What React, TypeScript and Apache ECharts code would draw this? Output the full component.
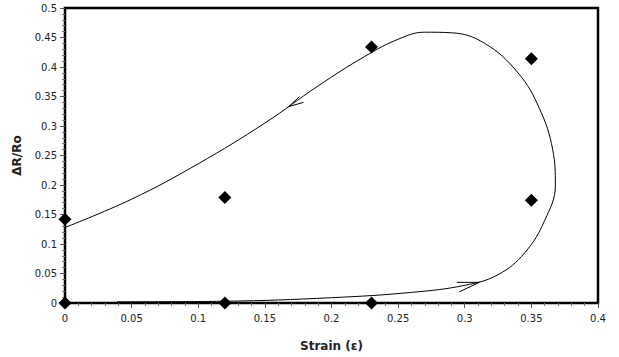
import React, { useEffect, useRef } from "react";
import * as echarts from "echarts";

const xTicks = [0, 0.05, 0.1, 0.15, 0.2, 0.25, 0.3, 0.35, 0.4];
const yTicks = [0, 0.05, 0.1, 0.15, 0.2, 0.25, 0.3, 0.35, 0.4, 0.45, 0.5];

const strainPoints = [0, 0, 0.12, 0.12, 0.23, 0.23, 0.35, 0.35];
const resistancePoints = [0, 0.142, 0, 0.179, 0, 0.434, 0.414, 0.174];

const loopStrain = [
  0.039, 0.12, 0.2, 0.26, 0.3, 0.325, 0.345, 0.36, 0.368, 0.366, 0.356, 0.34,
  0.315, 0.29, 0.27, 0.25, 0.225, 0.19, 0.15, 0.1, 0.05, 0,
];
const loopResistance = [
  0.002, 0.003, 0.009, 0.018, 0.03, 0.048, 0.085, 0.14, 0.2, 0.26, 0.33, 0.39,
  0.44, 0.458, 0.459, 0.447, 0.418, 0.368, 0.305, 0.236, 0.176, 0.128,
];

// arrow heads: wing, tip, wing
const arrowUpStrain = [0.176, 0.168, 0.179];
const arrowUpRes = [0.35, 0.333, 0.34];
const arrowDownStrain = [0.294, 0.311, 0.296];
const arrowDownRes = [0.035, 0.035, 0.019];

const zip = (a: number[], b: number[]) => a.map((v, i) => [v, b[i]]);

export default function App() {
  const ref = useRef<HTMLDivElement>(null);
  useEffect(() => {
    if (!ref.current) return;
    const chart = echarts.init(ref.current, undefined, { renderer: "svg" });
    const font = "DejaVu Sans";
    chart.setOption({
      animation: false,
      backgroundColor: "#ffffff",
      grid: {
        left: 65,
        right: 21,
        top: 8,
        bottom: 53,
        show: true,
        borderColor: "#000",
        borderWidth: 2.5,
      },
      xAxis: {
        type: "value",
        min: 0,
        max: 0.4,
        interval: 0.05,
        name: "Strain (ε)",
        nameLocation: "middle",
        nameGap: 37,
        nameTextStyle: { fontFamily: font, fontWeight: "bold", fontSize: 12, color: "#222" },
        axisLine: { show: true, onZero: false, lineStyle: { color: "#000", width: 2 } },
        axisTick: { show: true, length: 5, lineStyle: { color: "#555" } },
        minorTick: { show: true, splitNumber: 5, length: 3, lineStyle: { color: "#777" } },
        splitLine: { show: false },
        axisLabel: {
          fontFamily: font,
          fontSize: 10,
          color: "#222",
          margin: 10,
          formatter: (v: number) => {
            const t = xTicks.find((x) => Math.abs(x - v) < 1e-9);
            return t === undefined ? "" : String(t);
          },
        },
      },
      yAxis: {
        type: "value",
        min: 0,
        max: 0.5,
        interval: 0.05,
        name: "ΔR/Ro",
        nameLocation: "middle",
        nameGap: 42,
        nameTextStyle: { fontFamily: font, fontWeight: "bold", fontSize: 12, color: "#222" },
        axisLine: { show: true, onZero: false, lineStyle: { color: "#000", width: 2 } },
        axisTick: { show: true, length: 5, lineStyle: { color: "#555" } },
        minorTick: { show: true, splitNumber: 5, length: 3, lineStyle: { color: "#777" } },
        splitLine: { show: false },
        axisLabel: {
          fontFamily: font,
          fontSize: 10,
          color: "#222",
          margin: 8,
          formatter: (v: number) => {
            const t = yTicks.find((y) => Math.abs(y - v) < 1e-9);
            return t === undefined ? "" : String(t);
          },
        },
      },
      series: [
        {
          type: "line",
          data: zip(loopStrain, loopResistance),
          smooth: 0.4,
          showSymbol: false,
          symbol: "none",
          lineStyle: { color: "#000", width: 1 },
          clip: false,
          z: 3,
        },
        {
          type: "line",
          data: zip(arrowUpStrain, arrowUpRes),
          showSymbol: false,
          symbol: "none",
          lineStyle: { color: "#000", width: 1 },
          z: 3,
        },
        {
          type: "line",
          data: zip(arrowDownStrain, arrowDownRes),
          showSymbol: false,
          symbol: "none",
          lineStyle: { color: "#000", width: 1 },
          z: 3,
        },
        {
          type: "scatter",
          data: zip(strainPoints, resistancePoints),
          symbol: "diamond",
          symbolSize: 13,
          itemStyle: { color: "#000", opacity: 1 },
          clip: false,
          z: 5,
        },
      ],
    });
    return () => chart.dispose();
  }, []);
  return <div ref={ref} style={{ width: 619, height: 357, position: "absolute", left: 0, top: 0 }} />;
}
